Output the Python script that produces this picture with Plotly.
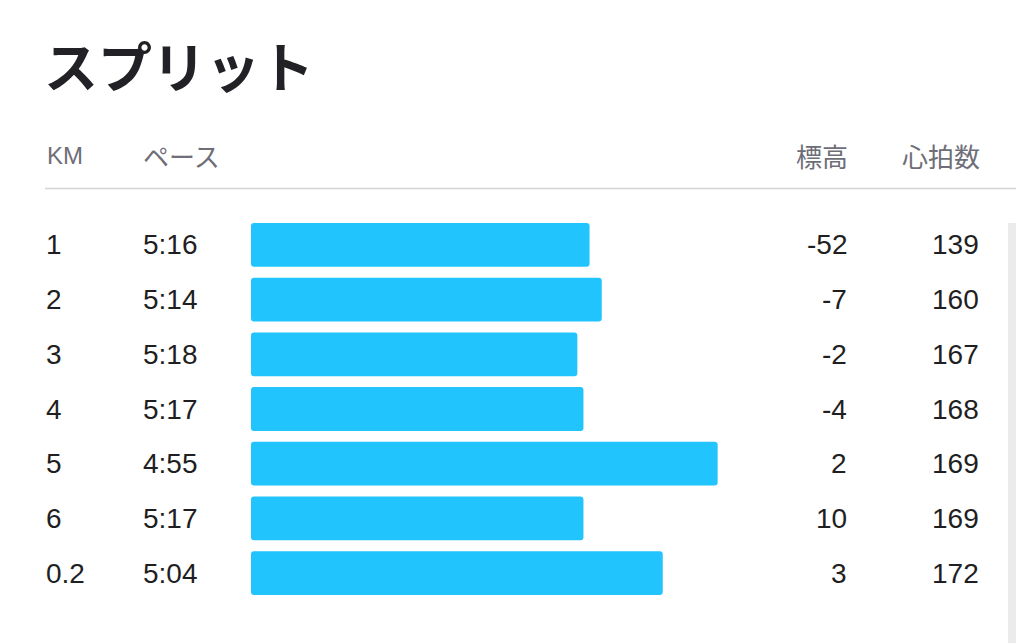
import plotly.graph_objects as go

# split table values
km = ["1", "2", "3", "4", "5", "6", "0.2"]
pace = ["5:16", "5:14", "5:18", "5:17", "4:55", "5:17", "5:04"]
elevation = [-52, -7, -2, -4, 2, 10, 3]
heart_rate = [139, 160, 167, 168, 169, 169, 172]

headers = ["KM", "ペース", "標高", "心拍数"]
title = "スプリット"

# pace as seconds for the bar lengths
pace_s = [int(p.split(":")[0]) * 60 + int(p.split(":")[1]) for p in pace]
slow_ref = 371.5   # pace at the left edge of the bars
px_per_s = 6.10

OFF = 8  # page body margin, shift everything back by this
W, H = 1024 - OFF, 643 - OFF
x0 = 251 - OFF
row_top, row_bot = 217.5 - OFF, 600.5 - OFF
plot_w = W - x0


def px(x):
    return (x - OFF) / W


def py(y):
    return 1 - (y - OFF) / H


CJK = "Noto Sans CJK JP"
LAT = "Liberation Sans, Noto Sans CJK JP"
BAR = "#22c4fd"
TXT = "#1f1f23"
GREY = "#6e6e78"

fig = go.Figure()
fig.add_trace(go.Bar(
    y=km,
    x=[p - slow_ref for p in pace_s],
    base=slow_ref,
    orientation="h",
    marker=dict(color=BAR, line=dict(width=0)),
    width=0.8,
    hoverinfo="skip",
))

ann = []
# title and column headers
ann.append(dict(x=px(42), y=py(64), text=f"<b>{title}</b>", xanchor="left",
                yanchor="middle", font=dict(family=CJK, size=54, color="#222226")))
ann.append(dict(x=px(45), y=py(156), text=headers[0], xanchor="left",
                yanchor="middle", font=dict(family=LAT, size=24, color=GREY)))
ann.append(dict(x=px(141), y=py(155), text=headers[1], xanchor="left",
                yanchor="middle", font=dict(family=CJK, size=26, color=GREY)))
ann.append(dict(x=px(850), y=py(155), text=headers[2], xanchor="right",
                yanchor="middle", font=dict(family=CJK, size=26, color=GREY)))
ann.append(dict(x=px(982), y=py(155), text=headers[3], xanchor="right",
                yanchor="middle", font=dict(family=CJK, size=26, color=GREY)))

# row texts, placed on the row index of the category axis
for i, (k, p, e, h) in enumerate(zip(km, pace, elevation, heart_rate)):
    row = dict(yref="y", y=i, yanchor="middle", font=dict(family=LAT, size=28, color=TXT))
    ann.append(dict(row, x=px(44), text=k, xanchor="left"))
    ann.append(dict(row, x=px(141), text=p, xanchor="left"))
    ann.append(dict(row, x=px(849), text=str(e), xanchor="right"))
    ann.append(dict(row, x=px(981), text=str(h), xanchor="right"))

for a in ann:
    a.setdefault("xref", "paper")
    a.setdefault("yref", "paper")
    a["showarrow"] = False

shapes = [
    # header divider
    dict(type="line", xref="paper", yref="paper", x0=px(45), x1=1,
         y0=py(188.5), y1=py(188.5), line=dict(color="#d4d4d8", width=1.5)),
    # scroll track on the right
    dict(type="rect", xref="paper", yref="paper", x0=px(1008), x1=px(1016),
         y0=0, y1=py(223), fillcolor="#ebebeb", line=dict(width=0), layer="below"),
]

fig.update_layout(
    width=W,
    height=H,
    margin=dict(l=0, r=0, t=0, b=0),
    paper_bgcolor="white",
    plot_bgcolor="white",
    showlegend=False,
    font=dict(family=LAT),
    barcornerradius=3,
    annotations=ann,
    shapes=shapes,
    xaxis=dict(
        domain=[x0 / W, 1],
        range=[slow_ref, slow_ref - plot_w / px_per_s],
        visible=False,
        fixedrange=True,
    ),
    yaxis=dict(
        domain=[1 - row_bot / H, 1 - row_top / H],
        type="category",
        categoryorder="array",
        categoryarray=km,
        range=[len(km) - 0.5, -0.5],
        visible=False,
        fixedrange=True,
    ),
)

fig.write_html("out.html", config={"displayModeBar": False})
